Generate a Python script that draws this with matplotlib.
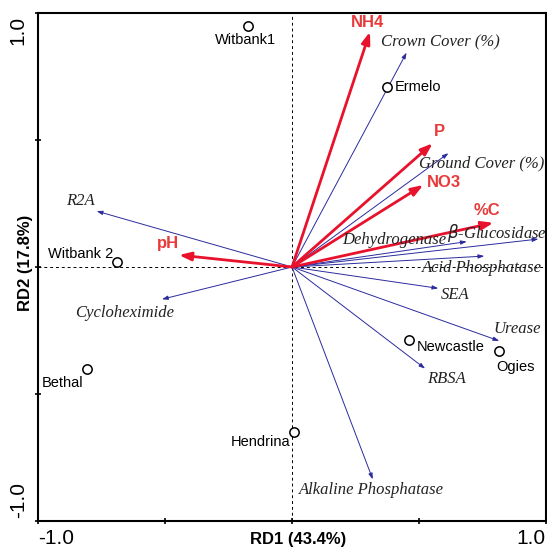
import matplotlib.pyplot as plt

## RDA biplot: sites, environmental variables (red) and enzyme / count variables (blue)

# sites (circles)
site_names = ['Witbank1', 'Ermelo', 'Witbank 2', 'Bethal', 'Hendrina', 'Newcastle', 'Ogies']
site_x = [-0.173, 0.375, -0.690, -0.808, 0.009, 0.462, 0.816]
site_y = [0.949, 0.710, 0.018, -0.403, -0.648, -0.287, -0.331]

# environmental arrows (red)
env_names = ['NH4', 'P', 'NO3', '%C', 'pH']
env_x = [0.307, 0.554, 0.517, 0.793, -0.445]
env_y = [0.926, 0.487, 0.323, 0.174, 0.047]

# response arrows (blue)
resp_names = ['Crown Cover (%)', 'Ground Cover (%)', 'Dehydrogenase', r'$\beta$-Glucosidase',
              'Acid Phosphatase', 'SEA', 'Urease', 'RBSA', 'Alkaline Phosphatase',
              'R2A', 'Cycloheximide']
resp_x = [0.451, 0.616, 0.688, 0.970, 0.757, 0.576, 0.816, 0.524, 0.318, -0.769, -0.512]
resp_y = [0.844, 0.448, 0.100, 0.110, 0.043, -0.084, -0.291, -0.400, -0.836, 0.220, -0.127]

# where the labels go (data coords, ha)
site_lab = [(-0.185, 0.894, 'center'), (0.406, 0.709, 'left'), (-0.705, 0.051, 'right'),
            (-0.904, -0.457, 'center'), (-0.008, -0.688, 'right'), (0.491, -0.314, 'left'),
            (0.880, -0.395, 'center')]
env_lab = [(0.299, 0.962), (0.579, 0.533), (0.598, 0.332), (0.768, 0.222), (-0.490, 0.093)]
resp_lab = [(0.586, 0.883), (0.745, 0.408), (0.402, 0.106), (0.808, 0.135), (0.748, -0.005),
            (0.643, -0.110), (0.886, -0.245), (0.608, -0.442), (0.313, -0.878),
            (-0.835, 0.261), (-0.661, -0.180)]

RED = '#e8122d'
BLUE = '#2b2b9e'

fig = plt.figure(figsize=(5.47, 5.49), dpi=100)
ax = fig.add_axes([38 / 547, 1 - 521 / 549, 508 / 547, 508 / 549])
ax.set_xlim(-1, 1)
ax.set_ylim(-1, 1)

ax.axhline(0, color='black', lw=0.7, ls=(0, (3, 3)), zorder=1)
ax.axvline(0, color='black', lw=0.7, ls=(0, (3, 3)), zorder=1)

# blue arrows
for i in range(len(resp_names)):
    ax.annotate('', xy=(resp_x[i], resp_y[i]), xytext=(0, 0),
                arrowprops=dict(arrowstyle='-|>,head_length=0.35,head_width=0.12',
                                color=BLUE, lw=0.7, shrinkA=0, shrinkB=0), zorder=2)
    lx, ly = resp_lab[i]
    ax.text(lx, ly, resp_names[i], ha='center', va='center', fontsize=12,
            family='Liberation Serif', style='italic', color='#222222', zorder=4)

# red arrows
for i in range(len(env_names)):
    ax.annotate('', xy=(env_x[i], env_y[i]), xytext=(0, 0),
                arrowprops=dict(arrowstyle='-|>,head_length=0.7,head_width=0.25',
                                color=RED, lw=2, shrinkA=0, shrinkB=0), zorder=3)
    lx, ly = env_lab[i]
    ax.text(lx, ly, env_names[i], ha='center', va='center', fontsize=12,
            family='Liberation Sans', weight='bold', color='#e83a3a', zorder=4)

# sites
ax.scatter(site_x, site_y, s=45, facecolor='white', edgecolor='black', lw=1.1, zorder=5)
for i in range(len(site_names)):
    lx, ly, ha = site_lab[i]
    ax.text(lx, ly, site_names[i], ha=ha, va='center', fontsize=10.5,
            family='Liberation Sans', color='black', zorder=6)

for s in ax.spines.values():
    s.set_linewidth(1.5)
ax.set_xticks([-1, -0.5, 0, 0.5, 1])
ax.set_yticks([-1, -0.5, 0, 0.5, 1])
ax.set_xticklabels([])
ax.set_yticklabels([])
ax.tick_params(direction='inout', length=5, width=1.2)

# end tick labels
tfont = dict(family='Liberation Sans', fontsize=15)
ax.text(0.0, -0.016, '-1.0', transform=ax.transAxes, ha='left', va='top', **tfont)
ax.text(1.0, -0.016, '1.0', transform=ax.transAxes, ha='right', va='top', **tfont)
ax.text(-0.02, 0.995, '1.0', transform=ax.transAxes, ha='right', va='top', rotation=90, **tfont)
ax.text(-0.02, 0.005, '-1.0', transform=ax.transAxes, ha='right', va='bottom', rotation=90, **tfont)

ax.text(0.512, -0.021, 'RD1 (43.4%)', transform=ax.transAxes, ha='center', va='top',
        family='Liberation Sans', weight='bold', fontsize=12)
ax.text(-0.01, 0.509, 'RD2 (17.8%)', transform=ax.transAxes, ha='right', va='center',
        rotation=90, family='Liberation Sans', weight='bold', fontsize=12)

fig.savefig('out.png', dpi=100)
